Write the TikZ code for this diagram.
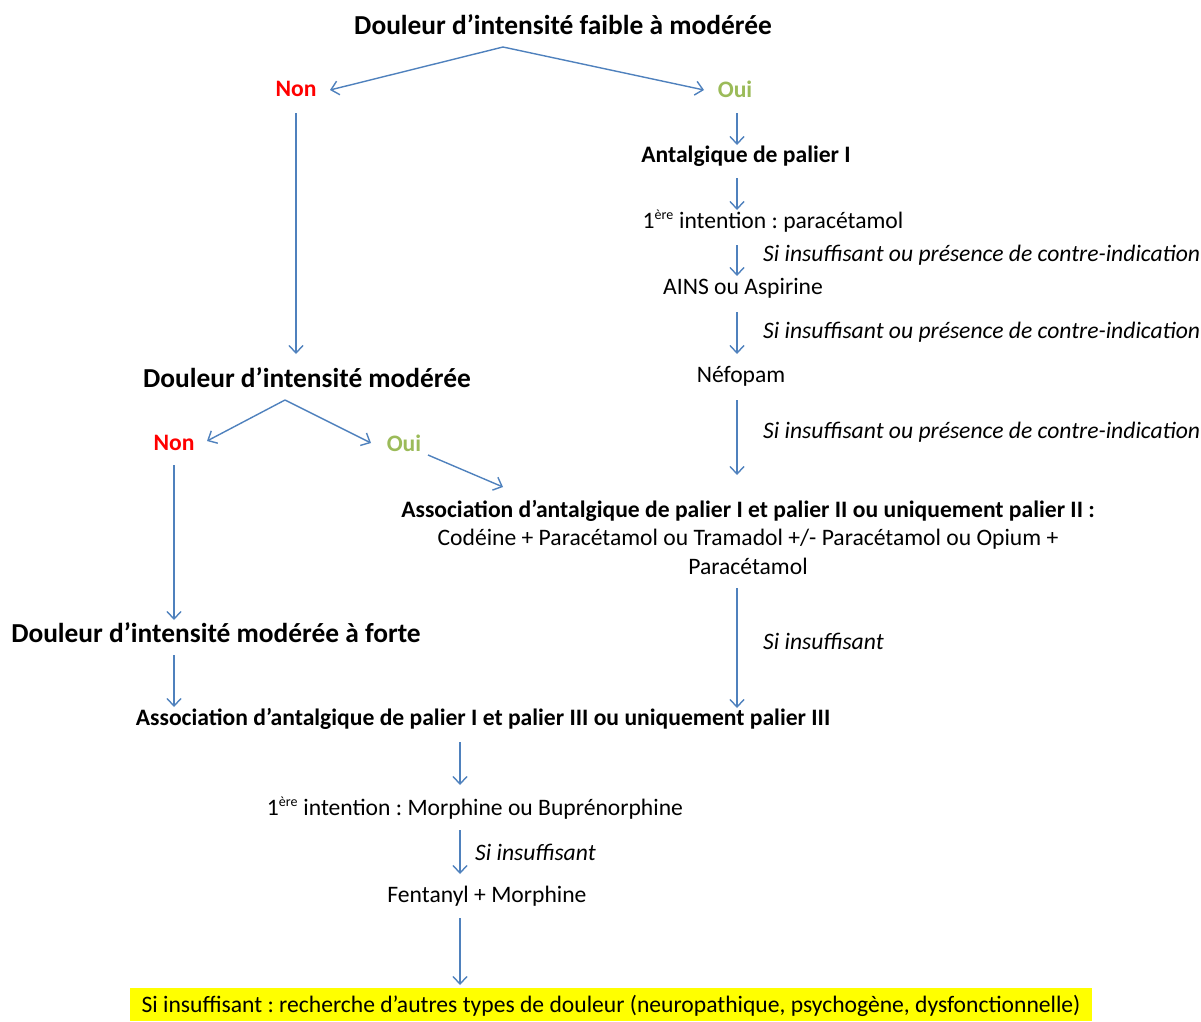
\documentclass[tikz,border=0pt]{standalone}
\usepackage{fontspec}
\setmainfont{Carlito}
\usetikzlibrary{arrows.meta}
\frenchspacing

\definecolor{flowblue}{HTML}{4F81BD}
\definecolor{nonred}{HTML}{FF0000}
\definecolor{ouigreen}{HTML}{9BBB59}
\definecolor{hlyellow}{HTML}{FFFF00}

\newcommand{\ere}{\textsuperscript{\fontsize{14}{14}\selectfont ère}}

\tikzset{
  flow/.style={draw=flowblue, line width=1.4pt, -{Straight Barb[length=7.5pt,width=14pt]}},
  head/.style={font=\fontsize{27.4}{32}\selectfont\bfseries, inner sep=0pt},
  boldtxt/.style={font=\fontsize{23.6}{28}\selectfont\bfseries, inner sep=0pt},
  plain/.style={font=\fontsize{23.6}{28.5}\selectfont, inner sep=0pt, align=center},
  note/.style={font=\fontsize{23.6}{28}\selectfont\itshape, inner sep=0pt, anchor=west},
  non/.style={boldtxt, text=nonred},
  oui/.style={boldtxt, text=ouigreen}
}

\begin{document}
\begin{tikzpicture}[x=1pt, y=-1pt]
    \useasboundingbox (0,0) rectangle (1201,1021);

    % Premier niveau
    \node[head] (faible) at (563,25) {Douleur d’intensité faible à modérée};
    \coordinate (split1) at ([shift={(-60,22)}]faible.center);
    \node[non] (non1) at (296,89) {Non};
    \node[oui] (oui1) at (735,89) {Oui};
    \draw[flow] (split1) -- ([shift={(34,1)}]non1.center);
    \draw[flow] (split1) -- ([shift={(-31,1)}]oui1.center);

    % Branche droite : palier I
    \coordinate (col) at (737,0);
    \node[boldtxt] (palier1) at (746,156) {Antalgique de palier I};
    \node[plain] (para) at (773,221) {1\ere{} intention : paracétamol};
    \node[plain] (ains) at (743,288) {AINS ou Aspirine};
    \node[plain] (nefo) at (741,376) {Néfopam};
    \draw[flow] ([shift={(0,24)}]col |- oui1) -- ([shift={(0,-11)}]col |- palier1);
    \draw[flow] ([shift={(0,22)}]col |- palier1) -- ([shift={(0,-11)}]col |- para);
    \draw[flow] ([shift={(0,24)}]col |- para) -- ([shift={(0,-12)}]col |- ains);
    \draw[flow] ([shift={(0,24)}]col |- ains) -- ([shift={(0,-22)}]col |- nefo);
    \node[note] (si1) at (763,255) {Si insuffisant ou présence de contre-indication};
    \node[note] (si2) at (763,332) {Si insuffisant ou présence de contre-indication};
    \node[note] (si3) at (763,432) {Si insuffisant ou présence de contre-indication};

    % Palier II
    \node[plain] (palier2) at (748,537)
        {\textbf{Association d’antalgique de palier I et palier II ou uniquement palier II :}\\
         Codéine + Paracétamol ou Tramadol +/- Paracétamol ou Opium +\\
         Paracétamol};
    \draw[flow] ([shift={(0,24)}]col |- nefo) -- ([shift={(0,-62)}]col |- palier2);

    % Branche gauche
    \node[head] (moderee) at (307,378) {Douleur d’intensité modérée};
    \draw[flow] ([shift={(0,24)}]non1.center) -- ([shift={(0,-24)}]non1 |- moderee);
    \coordinate (split2) at (285,400);
    \node[non] (non2) at (174,443) {Non};
    \node[oui] (oui2) at (404,443) {Oui};
    \draw[flow] (split2) -- ([shift={(33,-2)}]non2.center);
    \draw[flow] (split2) -- ([shift={(-33,0)}]oui2.center);
    \draw[flow] ([shift={(24,12)}]oui2.center) -- ([shift={(-245,-50)}]palier2.center);

    \node[head] (forte) at (216,633) {Douleur d’intensité modérée à forte};
    \draw[flow] ([shift={(0,22)}]non2.center) -- ([shift={(0,-13)}]non2 |- forte);

    % Palier III
    \node[boldtxt] (palier3) at (483,719)
        {Association d’antalgique de palier I et palier III ou uniquement palier III};
    \draw[flow] ([shift={(0,22)}]non2 |- forte) -- ([shift={(0,-12)}]non2 |- palier3);
    \draw[flow] ([shift={(0,51)}]col |- palier2) -- ([shift={(0,-11)}]col |- palier3);
    \node[note] (si5) at (763,641) {Si insuffisant};

    \coordinate (col3) at (460,0);
    \node[plain] (morph) at (475,808) {1\ere{} intention : Morphine ou Buprénorphine};
    \node[plain] (fenta) at (487,896) {Fentanyl + Morphine};
    \draw[flow] ([shift={(0,23)}]col3 |- palier3) -- ([shift={(0,-23)}]col3 |- morph);
    \draw[flow] ([shift={(0,22)}]col3 |- morph) -- ([shift={(0,-22)}]col3 |- fenta);
    \node[note] (si4) at (475,852) {Si insuffisant};

    % Conclusion
    \fill[hlyellow] (130,988) rectangle (1092,1021);
    \node[plain] (fin) at (611,1006)
        {Si insuffisant : recherche d’autres types de douleur (neuropathique, psychogène, dysfonctionnelle)};
    \draw[flow] ([shift={(0,22)}]col3 |- fenta) -- ([shift={(0,-21)}]col3 |- fin);
\end{tikzpicture}
\end{document}
